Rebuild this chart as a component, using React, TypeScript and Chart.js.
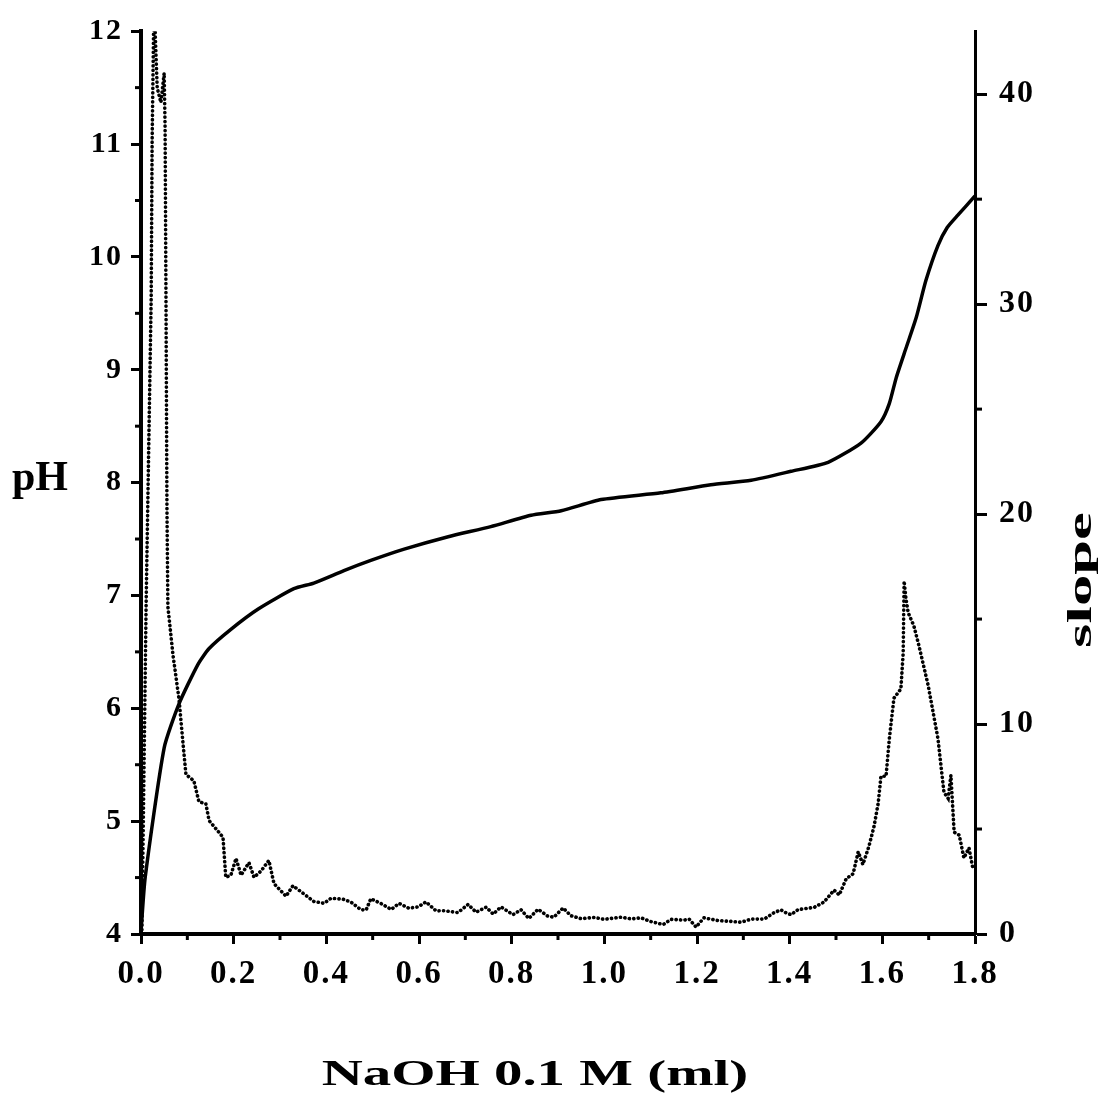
import React, { useEffect, useRef } from "react";
import { Chart, registerables } from "chart.js";

Chart.register(...registerables);

// pH titration curve (solid line) — NaOH volume (ml) vs pH
const phVolume = [0.0, 0.009, 0.05, 0.082, 0.123, 0.147, 0.194, 0.253, 0.33, 0.373, 0.438, 0.496, 0.568, 0.663, 0.755, 0.842, 0.907, 0.993, 1.122, 1.23, 1.317, 1.403, 1.483, 1.554, 1.597, 1.615, 1.63, 1.651, 1.673, 1.694, 1.72, 1.74, 1.763, 1.8];
const phValues = [4.02, 4.5, 5.65, 6.04, 6.39, 6.53, 6.7, 6.88, 7.06, 7.11, 7.22, 7.31, 7.41, 7.52, 7.61, 7.71, 7.75, 7.85, 7.91, 7.98, 8.02, 8.1, 8.18, 8.35, 8.54, 8.7, 8.93, 9.19, 9.46, 9.79, 10.1, 10.26, 10.37, 10.54];

// first derivative (dotted trace) — NaOH volume (ml) vs slope
const slopeVolume = [0.002, 0.011, 0.022, 0.024, 0.028, 0.035, 0.043, 0.05, 0.052, 0.054, 0.056, 0.058, 0.069, 0.082, 0.091, 0.097, 0.114, 0.125, 0.14, 0.147, 0.166, 0.177, 0.183, 0.194, 0.205, 0.216, 0.233, 0.244, 0.259, 0.276, 0.287, 0.313, 0.328, 0.352, 0.373, 0.395, 0.41, 0.436, 0.453, 0.475, 0.486, 0.496, 0.518, 0.54, 0.557, 0.578, 0.598, 0.615, 0.637, 0.654, 0.684, 0.706, 0.723, 0.745, 0.76, 0.777, 0.803, 0.82, 0.837, 0.857, 0.878, 0.891, 0.911, 0.928, 0.95, 0.978, 0.999, 1.036, 1.058, 1.079, 1.101, 1.127, 1.144, 1.172, 1.183, 1.198, 1.215, 1.245, 1.273, 1.295, 1.317, 1.345, 1.366, 1.381, 1.392, 1.403, 1.418, 1.453, 1.474, 1.496, 1.507, 1.522, 1.537, 1.548, 1.558, 1.571, 1.582, 1.591, 1.597, 1.608, 1.615, 1.625, 1.64, 1.645, 1.647, 1.651, 1.656, 1.668, 1.679, 1.699, 1.72, 1.733, 1.742, 1.748, 1.755, 1.766, 1.776, 1.787, 1.796];
const slopeValues = [0.2, 15.6, 30.3, 37.7, 44.5, 40.3, 39.6, 41.0, 38.4, 29.9, 20.3, 15.6, 13.3, 11.2, 9.0, 7.6, 7.3, 6.3, 6.2, 5.4, 4.9, 4.6, 2.7, 2.8, 3.6, 2.8, 3.4, 2.7, 3.0, 3.5, 2.4, 1.8, 2.3, 1.9, 1.55, 1.46, 1.7, 1.66, 1.52, 1.15, 1.15, 1.68, 1.45, 1.17, 1.46, 1.23, 1.29, 1.53, 1.1, 1.11, 1.02, 1.41, 1.04, 1.28, 0.95, 1.29, 0.92, 1.16, 0.74, 1.18, 0.85, 0.8, 1.24, 0.87, 0.73, 0.79, 0.7, 0.8, 0.72, 0.77, 0.59, 0.45, 0.7, 0.66, 0.71, 0.33, 0.77, 0.64, 0.6, 0.56, 0.71, 0.71, 1.01, 1.15, 1.01, 0.92, 1.16, 1.27, 1.52, 2.09, 1.86, 2.63, 2.87, 3.92, 3.31, 4.17, 5.12, 6.22, 7.51, 7.51, 9.28, 11.23, 11.67, 13.38, 16.81, 15.96, 15.29, 14.68, 13.73, 11.83, 9.31, 6.75, 6.46, 7.56, 4.85, 4.71, 3.62, 4.1, 3.05];

// axis ranges / tick steps
const volumeRange = [0, 1.8];
const volumeStep = 0.2;
const phRange = [4, 12];
const phStep = 1;
const slopeRange = [0, 43];
const slopeStep = 10;

const xTitle = "NaOH 0.1 M (ml)";
const yTitle = "pH";
const y2Title = "slope";

const SERIF = '"Liberation Serif", "Times New Roman", serif';

const spacingPlugin = {
  id: "spacing",
  beforeDraw(chart: any) {
    chart.ctx.letterSpacing = "2px";
  },
};

const decorPlugin = {
  id: "decor",
  afterDraw(chart: any) {
    const ctx = chart.ctx;
    ctx.letterSpacing = "0px";
    const area = chart.chartArea;
    const sx = chart.scales.x;
    const sy = chart.scales.y;
    const sy2 = chart.scales.y2;
    ctx.save();
    ctx.strokeStyle = "#000";
    ctx.lineWidth = 3;
    ctx.lineCap = "butt";
    // minor ticks
    for (let v = phRange[0] + phStep / 2; v < phRange[1]; v += phStep) {
      const y = sy.getPixelForValue(v);
      ctx.beginPath();
      ctx.moveTo(area.left, y);
      ctx.lineTo(area.left - 6, y);
      ctx.stroke();
    }
    for (let v = slopeRange[0] + slopeStep / 2; v < slopeRange[1]; v += slopeStep) {
      const y = sy2.getPixelForValue(v);
      ctx.beginPath();
      ctx.moveTo(area.right, y);
      ctx.lineTo(area.right + 7, y);
      ctx.stroke();
    }
    for (let v = volumeRange[0] + volumeStep / 2; v < volumeRange[1]; v += volumeStep) {
      const x = sx.getPixelForValue(v);
      ctx.beginPath();
      ctx.moveTo(x, area.bottom);
      ctx.lineTo(x, area.bottom + 6);
      ctx.stroke();
    }
    ctx.fillStyle = "#000";
    // pH title
    ctx.font = `bold 42px ${SERIF}`;
    ctx.textAlign = "left";
    ctx.textBaseline = "alphabetic";
    ctx.fillText(yTitle, 12, 490);
    // slope title (rotated, stretched)
    ctx.save();
    ctx.translate(1091, 580);
    ctx.rotate(-Math.PI / 2);
    ctx.scale(1.9, 1);
    ctx.font = `bold 33px ${SERIF}`;
    ctx.textAlign = "center";
    ctx.fillText(y2Title, 0, 0);
    ctx.restore();
    // x title (stretched)
    ctx.save();
    ctx.translate(535, 1085);
    ctx.scale(1.58, 1);
    ctx.font = `bold 36px ${SERIF}`;
    ctx.textAlign = "center";
    ctx.fillText(xTitle, 0, 0);
    ctx.restore();
    ctx.restore();
  },
};

export default function App() {
  const canvasRef = useRef<HTMLCanvasElement | null>(null);

  useEffect(() => {
    const canvas = canvasRef.current;
    if (!canvas) return;
    const phData = phVolume.map((v, i) => ({ x: v, y: phValues[i] }));
    const slopeData = slopeVolume.map((v, i) => ({ x: v, y: slopeValues[i] }));
    const chart = new Chart(canvas, {
      type: "line",
      data: {
        datasets: [
          {
            label: "pH",
            data: phData,
            yAxisID: "y",
            borderColor: "#000",
            borderWidth: 3.5,
            borderJoinStyle: "round",
            pointRadius: 0,
            tension: 0.2,
            fill: false,
          },
          {
            label: "slope",
            data: slopeData,
            yAxisID: "y2",
            borderColor: "#000",
            borderWidth: 3.6,
            borderDash: [0.2, 4.3],
            borderCapStyle: "round",
            pointRadius: 0,
            tension: 0,
            fill: false,
          },
        ],
      },
      options: {
        responsive: false,
        animation: false,
        devicePixelRatio: 1,
        layout: { padding: { top: 28, left: 0, right: 0, bottom: 0 } },
        plugins: {
          legend: { display: false },
          tooltip: { enabled: false },
          title: { display: false },
        },
        scales: {
          x: {
            type: "linear",
            position: "bottom",
            min: volumeRange[0],
            max: volumeRange[1],
            afterFit: (s: any) => {
              s.height = 166;
            },
            border: { display: true, color: "#000", width: 4 },
            grid: {
              display: true,
              drawOnChartArea: false,
              drawTicks: true,
              tickLength: 10,
              tickWidth: 3,
              tickColor: "#000",
            },
            ticks: {
              stepSize: volumeStep,
              includeBounds: false,
              color: "#000",
              padding: 11,
              maxRotation: 0,
              autoSkip: false,
              font: { family: SERIF, size: 33, weight: "bold" },
              callback: (v: any) => Number(v).toFixed(1),
            },
          },
          y: {
            type: "linear",
            position: "left",
            min: phRange[0],
            max: phRange[1],
            afterFit: (s: any) => {
              s.width = 141;
            },
            border: { display: true, color: "#000", width: 4 },
            grid: {
              display: true,
              drawOnChartArea: false,
              drawTicks: true,
              tickLength: 10,
              tickWidth: 3,
              tickColor: "#000",
            },
            ticks: {
              stepSize: phStep,
              includeBounds: false,
              color: "#000",
              padding: 8,
              font: { family: SERIF, size: 30, weight: "bold" },
              callback: (v: any) => String(v),
            },
          },
          y2: {
            type: "linear",
            position: "right",
            min: slopeRange[0],
            max: slopeRange[1],
            afterFit: (s: any) => {
              s.width = 133;
            },
            border: { display: true, color: "#000", width: 3 },
            grid: {
              display: true,
              drawOnChartArea: false,
              drawTicks: true,
              tickLength: 12,
              tickWidth: 3,
              tickColor: "#000",
            },
            ticks: {
              stepSize: slopeStep,
              includeBounds: false,
              color: "#000",
              padding: 12,
              font: { family: SERIF, size: 32, weight: "bold" },
              callback: (v: any) => String(v),
            },
          },
        },
      },
      plugins: [spacingPlugin, decorPlugin],
    } as any);
    return () => chart.destroy();
  }, []);

  return (
    <div style={{ position: "absolute", left: 0, top: 0, width: 1108, height: 1100, background: "#fff" }}>
      <canvas ref={canvasRef} width={1108} height={1100} style={{ display: "block", width: 1108, height: 1100 }} />
    </div>
  );
}
